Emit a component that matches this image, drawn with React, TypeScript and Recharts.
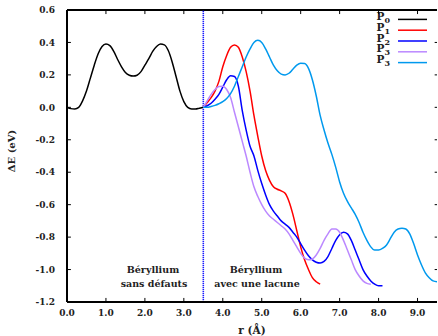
import React from 'react';
import { LineChart, Line, XAxis, YAxis, ReferenceLine } from 'recharts';

// r (Å), ΔE (eV) pairs
const P0: [number, number][] = [
  [0.0, 0.0], [0.1, -0.008], [0.2, -0.01], [0.3, 0.0], [0.4, 0.04], [0.5, 0.1], [0.6, 0.18],
  [0.7, 0.26], [0.8, 0.33], [0.9, 0.375], [1.0, 0.39], [1.1, 0.38], [1.2, 0.345], [1.3, 0.295],
  [1.4, 0.25], [1.5, 0.215], [1.6, 0.198], [1.7, 0.193], [1.8, 0.198], [1.9, 0.22], [2.0, 0.26],
  [2.1, 0.3], [2.2, 0.345], [2.3, 0.375], [2.4, 0.39], [2.5, 0.385], [2.6, 0.35], [2.7, 0.28],
  [2.8, 0.19], [2.9, 0.1], [3.0, 0.035], [3.1, 0.0], [3.2, -0.01], [3.3, -0.01], [3.4, -0.005],
  [3.5, 0.0],
];

const P1: [number, number][] = [
  [3.5, 0.0], [3.6, 0.03], [3.7, 0.06], [3.8, 0.1], [3.9, 0.16], [4.0, 0.25], [4.1, 0.32],
  [4.2, 0.37], [4.3, 0.385], [4.4, 0.37], [4.5, 0.31], [4.6, 0.22], [4.7, 0.1], [4.8, -0.05],
  [4.9, -0.18], [5.0, -0.3], [5.1, -0.39], [5.2, -0.45], [5.3, -0.49], [5.4, -0.505], [5.5, -0.515],
  [5.6, -0.53], [5.7, -0.58], [5.8, -0.66], [5.9, -0.76], [6.0, -0.86], [6.1, -0.94], [6.2, -1.0],
  [6.3, -1.05], [6.4, -1.075], [6.5, -1.09],
];

const P2: [number, number][] = [
  [3.5, 0.0], [3.6, 0.01], [3.7, 0.025], [3.8, 0.05], [3.9, 0.08], [4.0, 0.125], [4.1, 0.17],
  [4.2, 0.195], [4.3, 0.19], [4.4, 0.13], [4.5, -0.02], [4.6, -0.14], [4.7, -0.24], [4.8, -0.3],
  [4.9, -0.39], [5.0, -0.47], [5.1, -0.54], [5.2, -0.6], [5.3, -0.64], [5.4, -0.67], [5.5, -0.7],
  [5.6, -0.72], [5.7, -0.74], [5.8, -0.77], [5.9, -0.8], [6.0, -0.84], [6.1, -0.88], [6.2, -0.915],
  [6.3, -0.94], [6.4, -0.955], [6.5, -0.96], [6.6, -0.95], [6.7, -0.92], [6.8, -0.87], [6.9, -0.82],
  [7.0, -0.785], [7.1, -0.77], [7.2, -0.78], [7.3, -0.82], [7.4, -0.88], [7.5, -0.94], [7.6, -1.0],
  [7.7, -1.04], [7.8, -1.07], [7.9, -1.09], [8.0, -1.1], [8.1, -1.1],
];

const P3a: [number, number][] = [
  [3.5, 0.0], [3.6, 0.04], [3.7, 0.08], [3.8, 0.11], [3.9, 0.128], [4.0, 0.13], [4.1, 0.11],
  [4.2, 0.06], [4.3, -0.03], [4.4, -0.12], [4.5, -0.21], [4.6, -0.3], [4.7, -0.4], [4.8, -0.49],
  [4.9, -0.55], [5.0, -0.6], [5.1, -0.64], [5.2, -0.67], [5.3, -0.69], [5.4, -0.71], [5.5, -0.73],
  [5.6, -0.75], [5.7, -0.78], [5.8, -0.82], [5.9, -0.86], [6.0, -0.9], [6.1, -0.93], [6.2, -0.94],
  [6.3, -0.935], [6.4, -0.91], [6.5, -0.87], [6.6, -0.82], [6.7, -0.78], [6.8, -0.75], [6.9, -0.75],
  [7.0, -0.77], [7.1, -0.82], [7.2, -0.88], [7.3, -0.94], [7.4, -1.0], [7.5, -1.04], [7.6, -1.07],
  [7.7, -1.085], [7.8, -1.09],
];

const P3b: [number, number][] = [
  [3.5, 0.0], [3.6, 0.0], [3.7, 0.005], [3.8, 0.012], [3.9, 0.022], [4.0, 0.035], [4.1, 0.055],
  [4.2, 0.085], [4.3, 0.13], [4.4, 0.19], [4.5, 0.25], [4.6, 0.31], [4.7, 0.36], [4.8, 0.4],
  [4.9, 0.413], [5.0, 0.4], [5.1, 0.36], [5.2, 0.31], [5.3, 0.26], [5.4, 0.225], [5.5, 0.205],
  [5.6, 0.2], [5.7, 0.21], [5.8, 0.235], [5.9, 0.26], [6.0, 0.272], [6.1, 0.27], [6.2, 0.24],
  [6.3, 0.17], [6.4, 0.07], [6.5, -0.05], [6.6, -0.14], [6.7, -0.22], [6.8, -0.29], [6.9, -0.37],
  [7.0, -0.46], [7.1, -0.53], [7.2, -0.58], [7.3, -0.62], [7.4, -0.66], [7.5, -0.71], [7.6, -0.77],
  [7.7, -0.82], [7.8, -0.86], [7.9, -0.88], [8.0, -0.88], [8.1, -0.87], [8.2, -0.85], [8.3, -0.81],
  [8.4, -0.77], [8.5, -0.75], [8.6, -0.745], [8.7, -0.75], [8.8, -0.78], [8.9, -0.84], [9.0, -0.91],
  [9.1, -0.97], [9.2, -1.02], [9.3, -1.05], [9.4, -1.07], [9.5, -1.075],
];

const X_TICKS = [0, 1, 2, 3, 4, 5, 6, 7, 8, 9];
const Y_TICKS = [-1.2, -1.0, -0.8, -0.6, -0.4, -0.2, 0.0, 0.2, 0.4, 0.6];
const X_MIN = 0;
const X_MAX = 9.5;
const Y_MIN = -1.2;
const Y_MAX = 0.6;

const SERIES = [
  { key: 'P0', label: 'P', sub: '0', data: P0, color: '#000000' },
  { key: 'P1', label: 'P', sub: '1', data: P1, color: '#ff0000' },
  { key: 'P2', label: 'P', sub: '2', data: P2, color: '#0000ff' },
  { key: 'P3a', label: 'P', sub: '3', data: P3a, color: '#bb88ff' },
  { key: 'P3b', label: 'P', sub: '3', data: P3b, color: '#0099ee' },
];

const FONT = '"DejaVu Serif", serif';

const toPoints = (pts: [number, number][]) => pts.map(([r, e]) => ({ r, e }));

const txt = { fontFamily: FONT, fontWeight: 'bold' as const, fill: '#222' };

// inward tick lengths in data units (≈4px)
const XT = 0.1;
const YT = 0.025;

// legend drawn as plain svg in the top-right corner of the plot
const LegendBox = () => (
  <g transform="translate(372, 14)">
    {SERIES.map((s, i) => {
      const y = 5.4 + i * 10.8;
      return (
        <g key={s.key}>
          <text x={18} y={y + 0.5} textAnchor="end" fontSize={10.5} {...txt}>
            {s.label}
            <tspan fontSize={8} dy={3}>{s.sub}</tspan>
          </text>
          <line x1={26} x2={55} y1={y} y2={y} stroke={s.color} strokeWidth={1.5} />
        </g>
      );
    })}
  </g>
);

export default function App() {
  return (
    <div style={{ width: 438, height: 336, fontFamily: FONT }}>
      <style>{'body{margin:0}'}</style>
      <LineChart width={438} height={336} margin={{ top: 10, right: 1, left: 0, bottom: 0 }}>
        <XAxis
          type="number"
          dataKey="r"
          domain={[X_MIN, X_MAX]}
          ticks={X_TICKS}
          allowDataOverflow
          tickFormatter={(v: number) => v.toFixed(1)}
          height={34}
          tickLine={false}
          tickMargin={2}
          axisLine={{ stroke: '#000', strokeWidth: 2 }}
          tick={{ fontSize: 9, ...txt }}
          label={() => (
            <text x={252} y={334} textAnchor="middle" fontSize={10.5} {...txt}>
              r (Å)
            </text>
          )}
        />
        <YAxis
          type="number"
          domain={[Y_MIN, Y_MAX]}
          ticks={Y_TICKS}
          allowDataOverflow
          tickFormatter={(v: number) => v.toFixed(1)}
          width={67}
          tickLine={false}
          tickMargin={6}
          axisLine={{ stroke: '#000', strokeWidth: 2 }}
          tick={{ fontSize: 9, ...txt }}
          label={() => (
            <text x={15} y={151} transform="rotate(-90 15 151)" textAnchor="middle" fontSize={10} {...txt}>
              ΔE (eV)
            </text>
          )}
        />
        {/* top frame */}
        <ReferenceLine y={Y_MAX} stroke="#000" strokeWidth={2} />
        {/* inward ticks on all four sides */}
        {X_TICKS.map((t) => (
          <ReferenceLine key={`xb${t}`} segment={[{ x: t, y: Y_MIN }, { x: t, y: Y_MIN + YT }]} stroke="#000" />
        ))}
        {X_TICKS.map((t) => (
          <ReferenceLine key={`xt${t}`} segment={[{ x: t, y: Y_MAX }, { x: t, y: Y_MAX - YT }]} stroke="#000" />
        ))}
        {Y_TICKS.map((t) => (
          <ReferenceLine key={`yl${t}`} segment={[{ x: X_MIN, y: t }, { x: X_MIN + XT, y: t }]} stroke="#000" />
        ))}
        {Y_TICKS.map((t) => (
          <ReferenceLine key={`yr${t}`} segment={[{ x: X_MAX, y: t }, { x: X_MAX - XT * 0.6, y: t }]} stroke="#000" />
        ))}
        <ReferenceLine x={3.5} stroke="#1a1aff" strokeWidth={1.6} strokeDasharray="1.2 0.8" />
        {SERIES.map((s) => (
          <Line
            key={s.key}
            data={toPoints(s.data)}
            dataKey="e"
            name={s.key}
            type="monotone"
            stroke={s.color}
            strokeWidth={1.5}
            dot={false}
            activeDot={false}
            isAnimationActive={false}
          />
        ))}
        <LegendBox />
        <text x={153} y={273} textAnchor="middle" fontSize={9.5} {...txt}>Béryllium</text>
        <text x={154} y={287} textAnchor="middle" fontSize={9.5} {...txt}>sans défauts</text>
        <text x={256} y={273} textAnchor="middle" fontSize={9.5} {...txt}>Béryllium</text>
        <text x={257} y={287} textAnchor="middle" fontSize={9.5} {...txt}>avec une lacune</text>
      </LineChart>
    </div>
  );
}
